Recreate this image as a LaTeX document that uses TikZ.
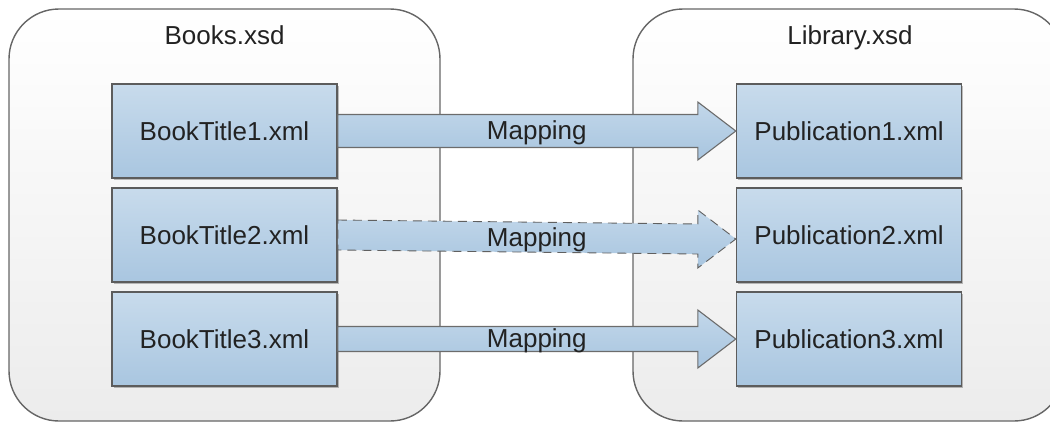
\documentclass[tikz,border=0pt]{standalone}
\usepackage{fontspec}
\setmainfont{Liberation Sans}
\usetikzlibrary{calc,shadows,positioning}

\definecolor{boxtop}{HTML}{C8DBEC}
\definecolor{boxbot}{HTML}{A9C6E0}
\definecolor{arrtop}{HTML}{C2D7EA}
\definecolor{arrbot}{HTML}{A8C5DF}
\definecolor{frame}{HTML}{666666}
\definecolor{bgbot}{HTML}{ECECEC}
\definecolor{ink}{HTML}{222222}

\tikzset{
  schema/.style={draw=frame, line width=1.4pt, rounded corners=50pt,
    top color=white, bottom color=bgbot, minimum width=431pt, minimum height=412pt},
  xmlfile/.style={draw=frame!90!black, line width=1.6pt, top color=boxtop, bottom color=boxbot,
    minimum width=225pt, minimum height=94pt, text=ink,
    drop shadow={shadow xshift=1.5pt, shadow yshift=-1.5pt, opacity=0.25, fill=black}},
  maparrow/.style={draw=gray!85!black, line width=1.1pt, top color=arrtop, bottom color=arrbot},
  caption/.style={text=ink, anchor=base},
}

% fat arrow from #2 to #3, shaft half width #4, tip shifted by #5
\newcommand{\maparrow}[5][]{%
  \draw[maparrow,#1] ($(#2.east)+(0,-#4)$) -- ($(#3.west)+(-38,#5-#4)$)
    -- ($(#3.west)+(-38,#5-29)$) -- ($(#3.west)+(0,#5)$) -- ($(#3.west)+(-38,#5+29)$)
    -- ($(#3.west)+(-38,#5+#4)$) -- ($(#2.east)+(0,#4)$) -- cycle;}

\begin{document}
\begin{tikzpicture}[x=1pt, y=-1pt, node distance=8.4pt, font=\fontsize{26}{31}\selectfont]
    \useasboundingbox (0,0) rectangle (1050,424);

    % schemas
    \node[schema] (books) at (224.5,215) {};
    \node[schema] (library) at (848.5,215) {};
    \node[caption] (bookslabel) at (224.5,44) {Books.xsd};
    \node[caption] (librarylabel) at (850,44) {Library.xsd};

    % xml files
    \node[xmlfile] (book1) at (224.5,131) {BookTitle1.xml};
    \node[xmlfile, below=of book1] (book2) {BookTitle2.xml};
    \node[xmlfile, below=of book2] (book3) {BookTitle3.xml};
    \node[xmlfile, right=398pt of book1] (pub1) {Publication1.xml};
    \node[xmlfile, right=398pt of book2] (pub2) {Publication2.xml};
    \node[xmlfile, right=398pt of book3] (pub3) {Publication3.xml};

    % mappings
    \maparrow{book1}{pub1}{16.5}{0}
    \maparrow[dash pattern=on 9pt off 6pt, draw=gray!75!black, line width=0.9pt]{book2}{pub2}{15}{4}
    \maparrow{book3}{pub3}{12.5}{0}
    \node[caption] (map1) at ($(book1.east)!0.5!(pub1.west)+(0,8.5)$) {Mapping};
    \node[caption] (map2) at ($(book2.east)!0.5!(pub2.west)+(0,11)$) {Mapping};
    \node[caption] (map3) at ($(book3.east)!0.5!(pub3.west)+(0,8.5)$) {Mapping};
\end{tikzpicture}
\end{document}
